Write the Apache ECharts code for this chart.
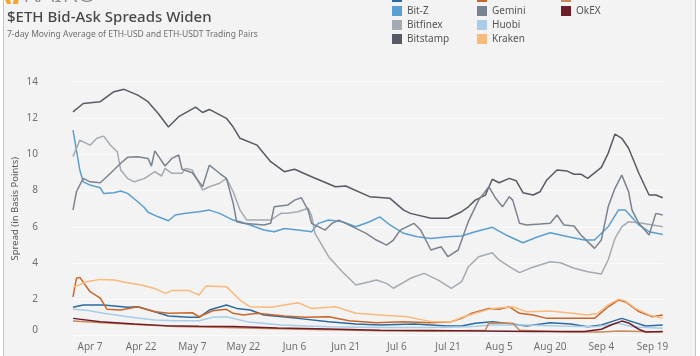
<!DOCTYPE html>
<html>
<head>
<meta charset="utf-8">
<script src="https://cdn.jsdelivr.net/npm/echarts@6/dist/echarts.min.js"></script>
<style>
  html, body { margin: 0; padding: 0; background: #ffffff; }
  #chart { width: 700px; height: 356px; }
</style>
</head>
<body>
<div id="chart"></div>
<script>
// ---- Data (day index counted from Apr 2, 2020; value in basis points) ----
const START_DATE = Date.UTC(2020, 3, 2);
const N_DAYS = 174; // Apr 2 .. Sep 22
const MONTHS = ['Jan','Feb','Mar','Apr','May','Jun','Jul','Aug','Sep','Oct','Nov','Dec'];

const binance = [[0,1.56],[3,1.69],[9,1.69],[16,1.56],[19,1.59],[24,1.32],[28,1.08],[34,1.01],[37,1.01],[40,1.41],[45,1.69],[48,1.5],[52,1.41],[56,1.14],[66,0.95],[75,0.77],[83,0.64],[90,0.58],[100,0.64],[110,0.53],[114,0.53],[118,0.68],[123,0.77],[129,0.64],[133,0.53],[140,0.71],[146,0.64],[151,0.49],[155,0.58],[158,0.77],[161,0.95],[164,0.77],[168,0.53],[173,0.58]];
const bitz = [[0,11.33],[1,10.23],[2,9.13],[3,8.48],[5,8.3],[8,8.15],[9,7.84],[12,7.88],[14,7.97],[16,7.84],[19,7.38],[21,7.05],[22,6.8],[25,6.55],[28,6.33],[30,6.65],[33,6.74],[37,6.83],[40,6.92],[43,6.74],[47,6.37],[49,6.28],[52,6.1],[56,5.82],[59,5.73],[62,5.91],[66,5.82],[70,5.73],[72,6.19],[75,6.37],[79,6.28],[83,6.0],[87,6.28],[90,6.55],[93,6.1],[97,5.64],[101,5.45],[105,5.36],[110,5.45],[114,5.49],[118,5.73],[123,5.97],[127,5.55],[132,5.12],[136,5.42],[140,5.67],[146,5.42],[150,5.27],[153,5.27],[157,6.0],[160,6.92],[162,6.92],[166,6.1],[169,5.73],[173,5.58]];
const bitfinex = [[0,9.86],[2,10.78],[5,10.5],[7,10.88],[9,11.0],[11,10.5],[13,10.14],[14,9.13],[16,8.67],[18,8.48],[21,8.67],[24,9.04],[26,8.8],[27,9.22],[29,8.95],[32,8.95],[33,9.22],[35,9.13],[38,8.03],[40,8.21],[43,8.4],[45,8.67],[47,7.93],[49,6.92],[51,6.37],[58,6.37],[61,6.74],[63,6.74],[66,6.83],[69,7.02],[70,6.6],[71,5.64],[75,4.35],[79,3.52],[83,2.79],[87,2.97],[89,3.07],[92,2.88],[94,2.61],[99,3.16],[103,3.43],[107,3.07],[111,2.61],[114,2.97],[116,3.8],[119,4.35],[123,4.57],[125,4.17],[128,3.8],[131,3.47],[134,3.71],[140,4.07],[143,4.02],[147,3.71],[151,3.52],[155,3.4],[157,4.17],[159,5.36],[161,6.0],[163,6.28],[167,6.19],[170,6.1],[173,6.0]];
const bitstamp = [[0,12.34],[3,12.8],[8,12.9],[12,13.45],[15,13.58],[19,13.26],[22,12.9],[25,12.25],[28,11.5],[31,12.07],[36,12.6],[38,12.3],[40,12.47],[45,11.98],[47,11.5],[49,10.88],[54,10.5],[58,9.59],[62,9.04],[65,9.17],[70,8.76],[77,8.21],[80,8.25],[87,7.66],[93,7.57],[97,6.92],[99,6.74],[105,6.47],[110,6.47],[114,6.83],[116,7.1],[118,7.47],[121,7.75],[123,8.62],[125,8.43],[128,8.67],[130,8.54],[132,7.88],[135,7.75],[137,7.93],[139,8.58],[142,9.13],[145,9.07],[147,8.9],[149,8.9],[151,8.67],[155,9.28],[157,10.05],[159,11.11],[161,10.88],[163,10.33],[166,8.95],[169,7.75],[171,7.75],[173,7.6]];
const coinbase = [[0,2.14],[1,3.16],[2,3.21],[5,2.42],[8,2.06],[10,1.45],[14,1.41],[19,1.59],[24,1.32],[28,1.23],[35,1.26],[37,1.04],[41,1.37],[45,1.45],[47,1.23],[50,1.14],[54,1.23],[62,1.08],[68,1.01],[75,1.04],[81,0.82],[89,0.71],[97,0.77],[105,0.71],[111,0.77],[114,0.95],[117,1.23],[122,1.5],[125,1.45],[128,1.59],[131,1.23],[135,1.14],[139,0.95],[146,0.95],[153,0.95],[157,1.59],[160,1.96],[162,1.87],[166,1.32],[170,1.04],[173,1.14]];
const gemini = [[0,6.92],[1,7.93],[3,8.67],[5,8.48],[8,8.43],[11,8.95],[14,9.5],[16,9.83],[19,9.86],[22,9.77],[23,9.35],[24,10.19],[27,9.35],[29,9.77],[31,9.96],[32,9.17],[35,8.98],[38,8.21],[40,9.4],[43,8.95],[45,8.67],[47,7.29],[48,6.28],[50,6.19],[56,6.1],[58,6.19],[59,7.1],[63,7.2],[65,7.47],[67,7.6],[69,6.9],[70,6.19],[74,5.82],[76,6.19],[78,6.37],[83,5.91],[86,5.64],[89,5.27],[92,4.99],[94,5.27],[96,5.82],[100,6.19],[102,5.82],[105,4.72],[108,4.9],[110,4.35],[113,4.72],[116,6.3],[119,7.47],[122,8.21],[124,7.57],[126,7.1],[128,7.66],[129,7.47],[131,6.19],[133,6.1],[137,6.15],[140,6.19],[142,6.65],[144,6.1],[147,6.04],[149,5.55],[151,5.18],[153,4.81],[155,5.27],[157,7.1],[159,8.12],[161,8.85],[163,7.93],[164,6.92],[166,6.19],[169,5.55],[171,6.74],[173,6.65]];
const huobi = [[0,1.45],[4,1.4],[9,1.23],[16,1.04],[24,0.86],[30,0.82],[37,0.82],[41,1.01],[45,1.04],[51,0.77],[61,0.58],[75,0.49],[90,0.44],[105,0.44],[116,0.49],[123,0.58],[133,0.58],[143,0.53],[153,0.49],[157,0.58],[160,0.68],[164,0.49],[173,0.4]];
const kraken = [[0,2.66],[4,2.97],[8,3.1],[12,3.07],[16,2.92],[20,2.79],[24,2.6],[27,2.33],[29,2.48],[34,2.48],[37,2.24],[39,2.73],[45,2.7],[47,2.33],[49,1.96],[52,1.59],[58,1.56],[62,1.69],[66,1.81],[70,1.5],[77,1.59],[83,1.23],[90,1.14],[98,1.04],[105,0.77],[111,0.77],[114,1.0],[118,1.23],[123,1.5],[129,1.59],[133,1.32],[140,1.36],[145,1.26],[151,1.14],[154,1.23],[157,1.69],[160,2.0],[162,1.92],[165,1.5],[169,1.14],[173,0.95]];
const kucoin = [[0,0.8],[10,0.7],[20,0.6],[30,0.5],[45,0.45],[60,0.38],[75,0.32],[90,0.27],[105,0.24],[121,0.3],[122,0.7],[129,0.68],[131,0.3],[145,0.2],[155,0.2],[160,0.25],[173,0.2]];
const okex = [[0,0.95],[8,0.77],[18,0.64],[27,0.55],[37,0.52],[47,0.5],[60,0.42],[75,0.36],[90,0.3],[105,0.28],[120,0.25],[135,0.22],[150,0.22],[155,0.35],[158,0.6],[161,0.8],[163,0.7],[166,0.35],[168,0.2],[173,0.22]];

const SERIES = [
  { name: 'Binance',  data: binance,  color: '#2b6a9f' },
  { name: 'Bit-Z',    data: bitz,     color: '#5a9fd2' },
  { name: 'Bitfinex', data: bitfinex, color: '#a4aab1' },
  { name: 'Bitstamp', data: bitstamp, color: '#555a64' },
  { name: 'Coinbase', data: coinbase, color: '#c8672b' },
  { name: 'Gemini',   data: gemini,   color: '#7a838f' },
  { name: 'Huobi',    data: huobi,    color: '#a9cce8' },
  { name: 'Kraken',   data: kraken,   color: '#f9ba7b' },
  { name: 'Kucoin',   data: kucoin,   color: '#c9895b' },
  { name: 'OkEX',     data: okex,     color: '#6e1d28' }
];
const LEGEND_COLUMNS = [
  ['Binance', 'Bit-Z', 'Bitfinex', 'Bitstamp'],
  ['Coinbase', 'Gemini', 'Huobi', 'Kraken'],
  ['Kucoin', 'OkEX']
];
const Y_TICKS = { min: 0, max: 14, interval: 2 };

const categories = Array.from({ length: N_DAYS }, (_, i) => {
  const d = new Date(START_DATE + i * 86400000);
  return MONTHS[d.getUTCMonth()] + ' ' + d.getUTCDate();
});
const FIRST_LABEL = 5, LABEL_STEP = 15; // Apr 7, every 15 days

const FONT = '"Noto Sans", "Open Sans", sans-serif';
const chart = echarts.init(document.getElementById('chart'), null, { renderer: 'canvas' });

const legendLefts = [392, 477, 561];
chart.setOption({
  animation: false,
  backgroundColor: '#ffffff',
  textStyle: { fontFamily: FONT },
  title: {
    text: '$ETH Bid-Ask Spreads Widen',
    subtext: '7-day Moving Average of ETH-USD and ETH-USDT Trading Pairs',
    left: 7, top: 10, padding: 0, itemGap: 5,
    textStyle: { fontFamily: FONT, fontSize: 15, fontWeight: 500, color: '#474747' },
    subtextStyle: { fontFamily: FONT, fontSize: 8.5, color: '#6e6e6e' }
  },
  graphic: [
    { type: 'rect', z: -100, silent: true,
      shape: { x: 3.5, y: -10, width: 692, height: 380 },
      style: { fill: '#f3f3f3', stroke: '#c4c4c4', lineWidth: 1 } },
    { type: 'polygon', z: -50, silent: true,
      shape: { points: [[4,-4],[9,-4],[11,4],[7,4]] }, style: { fill: '#f4a52a' } },
    { type: 'polygon', z: -50, silent: true,
      shape: { points: [[14,-4],[19,-4],[18,4],[13,4]] }, style: { fill: '#f4a52a' } },
    { type: 'text', z: -50, silent: true,
      style: { text: 'KAIKO', x: 23, y: -5, verticalAlign: 'middle', fill: '#8a8a8a',
               font: '300 26px ' + FONT } }
  ],
  legend: LEGEND_COLUMNS.map((col, i) => ({
    data: col,
    orient: 'vertical',
    left: legendLefts[i],
    top: -8,
    padding: 0,
    itemWidth: 10,
    itemHeight: 10,
    itemGap: 4,
    icon: 'rect',
    selectedMode: false,
    textStyle: { fontFamily: FONT, fontSize: 10, color: '#555' }
  })),
  grid: { left: 73, right: 37.3, top: 81.7, bottom: 20.4, containLabel: false },
  xAxis: {
    type: 'category',
    data: categories,
    boundaryGap: false,
    axisLine: { show: false },
    axisTick: { show: false },
    splitLine: { show: false },
    axisLabel: {
      interval: (idx) => idx >= FIRST_LABEL && (idx - FIRST_LABEL) % LABEL_STEP === 0,
      margin: 7,
      fontSize: 10,
      color: '#707070',
      fontFamily: FONT
    }
  },
  yAxis: {
    type: 'value',
    min: Y_TICKS.min, max: Y_TICKS.max, interval: Y_TICKS.interval,
    name: 'Spread (in Basis Points)',
    nameLocation: 'middle',
    nameGap: 53,
    nameMoveOverlap: false,
    nameTextStyle: { fontFamily: FONT, fontSize: 9.5, color: '#555' },
    axisLine: { show: false },
    axisTick: { show: false },
    splitLine: { show: true, lineStyle: { color: '#fbfbfb', width: 1 } },
    axisLabel: {
      margin: 35, fontSize: 10, color: '#707070', fontFamily: FONT,
      formatter: (v) => v === 0 ? '{z|0}' : String(v),
      rich: { z: { fontSize: 10, color: '#707070', fontFamily: FONT, padding: [0, 0, 11, 0] } }
    }
  },
  series: SERIES.map(s => ({
    name: s.name,
    type: 'line',
    data: s.data,
    color: s.color,
    showSymbol: false,
    symbol: 'none',
    lineStyle: { width: 1.5, color: s.color },
    itemStyle: { color: s.color },
    emphasis: { disabled: true }
  }))
});
</script>
</body>
</html>
